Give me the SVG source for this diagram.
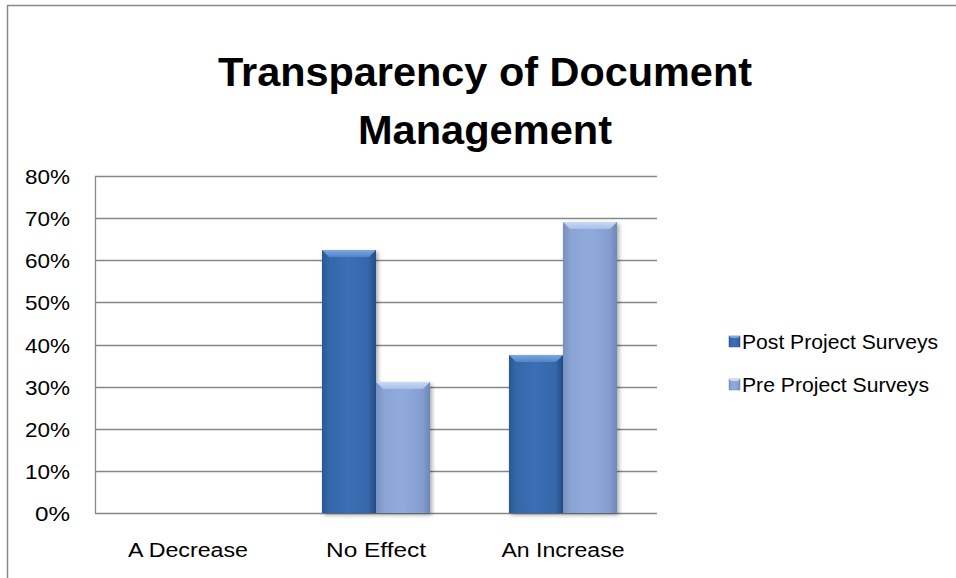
<svg xmlns="http://www.w3.org/2000/svg" width="956" height="578" viewBox="0 0 956 578">
<style>
.grid{stroke:#878787;stroke-width:1.3;fill:none}
.t{font-family:"Liberation Sans",Arial,sans-serif;fill:#000}
.ax{font-size:21px;text-anchor:end}
.cat{font-size:20px;text-anchor:middle}
.lg{font-size:20px}
.ttl{font-size:41px;font-weight:bold;text-anchor:middle}
</style>
<defs>
<linearGradient id="gPost" x1="0" y1="0" x2="1" y2="0">
<stop offset="0" stop-color="#2a5894"/>
<stop offset="0.15" stop-color="#3568aa"/>
<stop offset="0.5" stop-color="#3a6fb6"/>
<stop offset="0.85" stop-color="#3568aa"/>
<stop offset="1" stop-color="#244d85"/>
</linearGradient>
<linearGradient id="gPre" x1="0" y1="0" x2="1" y2="0">
<stop offset="0" stop-color="#7890c0"/>
<stop offset="0.15" stop-color="#8aa4d4"/>
<stop offset="0.5" stop-color="#91acdc"/>
<stop offset="0.85" stop-color="#849fcf"/>
<stop offset="1" stop-color="#6e86b6"/>
</linearGradient>
<linearGradient id="gPostTop" x1="0" y1="0" x2="0" y2="1">
<stop offset="0" stop-color="#7fa6dc"/>
<stop offset="1" stop-color="#4f86cc"/>
</linearGradient>
<linearGradient id="gPreTop" x1="0" y1="0" x2="0" y2="1">
<stop offset="0" stop-color="#cbdaf4"/>
<stop offset="1" stop-color="#a6bee8"/>
</linearGradient>
<filter id="sh" x="-20%" y="-5%" width="140%" height="115%">
<feGaussianBlur in="SourceAlpha" stdDeviation="2"/>
<feOffset dx="2" dy="2" result="b"/>
<feComponentTransfer><feFuncA type="linear" slope="0.35"/></feComponentTransfer>
<feMerge><feMergeNode/><feMergeNode in="SourceGraphic"/></feMerge>
</filter>
</defs>
<rect x="0" y="0" width="956" height="578" fill="#fff"/>
<path d="M7.5,578 V5.5 H956" fill="none" stroke="#878787" stroke-width="1.5"/>

<g id="title">
<text class="t ttl" x="485" y="86" textLength="534" lengthAdjust="spacingAndGlyphs">Transparency of Document</text>
<text class="t ttl" x="485" y="144" textLength="254" lengthAdjust="spacingAndGlyphs">Management</text>
</g>

<g id="gridlines">
<path class="grid" d="M95,176.5H657M95,218.5H657M95,260.5H657M95,302.5H657M95,345.5H657M95,387.5H657M95,429.5H657M95,471.5H657M95,513.5H657M95.5,176V514"/>
</g>

<g id="yaxis">
<text class="t ax" x="70" y="184" textLength="45" lengthAdjust="spacingAndGlyphs">80%</text>
<text class="t ax" x="70" y="226" textLength="45" lengthAdjust="spacingAndGlyphs">70%</text>
<text class="t ax" x="70" y="268" textLength="45" lengthAdjust="spacingAndGlyphs">60%</text>
<text class="t ax" x="70" y="310" textLength="45" lengthAdjust="spacingAndGlyphs">50%</text>
<text class="t ax" x="70" y="353" textLength="45" lengthAdjust="spacingAndGlyphs">40%</text>
<text class="t ax" x="70" y="395" textLength="45" lengthAdjust="spacingAndGlyphs">30%</text>
<text class="t ax" x="70" y="437" textLength="45" lengthAdjust="spacingAndGlyphs">20%</text>
<text class="t ax" x="70" y="479" textLength="45" lengthAdjust="spacingAndGlyphs">10%</text>
<text class="t ax" x="70" y="521" textLength="35" lengthAdjust="spacingAndGlyphs">0%</text>
</g>

<g id="bars">
<g id="bar-noeffect-post" filter="url(#sh)">
<rect x="322" y="250" width="54" height="263" fill="url(#gPost)"/>
<polygon points="322,250 376,250 369,257 329,257" fill="url(#gPostTop)"/>
</g>
<g id="bar-noeffect-pre" filter="url(#sh)">
<rect x="376" y="382" width="54" height="131" fill="url(#gPre)"/>
<polygon points="376,382 430,382 423,389 383,389" fill="url(#gPreTop)"/>
</g>
<g id="bar-increase-post" filter="url(#sh)">
<rect x="509" y="355" width="54" height="158" fill="url(#gPost)"/>
<polygon points="509,355 563,355 556,362 516,362" fill="url(#gPostTop)"/>
</g>
<g id="bar-increase-pre" filter="url(#sh)">
<rect x="563" y="222" width="54" height="291" fill="url(#gPre)"/>
<polygon points="563,222 617,222 610,229 570,229" fill="url(#gPreTop)"/>
</g>
</g>

<g id="xaxis">
<text class="t cat" x="188" y="557" textLength="120" lengthAdjust="spacingAndGlyphs">A Decrease</text>
<text class="t cat" x="376" y="557" textLength="100" lengthAdjust="spacingAndGlyphs">No Effect</text>
<text class="t cat" x="563" y="557" textLength="123" lengthAdjust="spacingAndGlyphs">An Increase</text>
</g>

<g id="legend">
<g id="legend-post">
<rect x="729" y="336" width="11" height="11" fill="url(#gPost)" stroke="#2a5894" stroke-width="0.5"/>
<polygon points="729,336 740,336 738,338 731,338" fill="#7fa6dc"/>
<text class="t lg" x="742" y="349" textLength="196" lengthAdjust="spacingAndGlyphs">Post Project Surveys</text>
</g>
<g id="legend-pre">
<rect x="729" y="379" width="11" height="11" fill="url(#gPre)" stroke="#6e86b6" stroke-width="0.5"/>
<polygon points="729,379 740,379 738,381 731,381" fill="#cbdaf4"/>
<text class="t lg" x="742" y="392" textLength="187" lengthAdjust="spacingAndGlyphs">Pre Project Surveys</text>
</g>
</g>
</svg>
